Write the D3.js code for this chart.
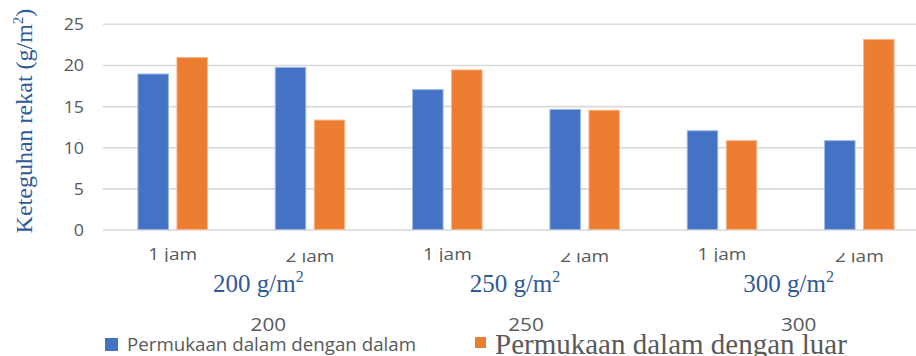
<!DOCTYPE html>
<html>
<head>
<meta charset="utf-8">
<script src="https://cdn.jsdelivr.net/npm/d3@7"></script>
<style>
  html, body { margin: 0; padding: 0; background: #fff; }
  svg { display: block; }
</style>
</head>
<body>
<svg id="chart" width="916" height="356"></svg>
<script>
// Bonding strength per sample: grammage group x curing time
const categories = ["1 jam", "2 jam", "1 jam", "2 jam", "1 jam", "2 jam"];
const groups = ["200", "250", "300"];
const groupTitles = ["200 g/m", "250 g/m", "300 g/m"];
const seriesNames = ["Permukaan dalam dengan dalam", "Permukaan dalam dengan luar"];
const seriesInIn = [18.9, 19.7, 17.0, 14.6, 12.0, 10.8];
const seriesInOut = [20.9, 13.3, 19.4, 14.5, 10.8, 23.1];
const yTicks = [0, 5, 10, 15, 20, 25];

const colors = ["#4472C4", "#ED7D31"];
const edge = ["#9fb6e2", "#f6b98f"];
const sans = "'Open Sans', 'Liberation Sans', sans-serif";
const serif = "'Liberation Serif', 'Times New Roman', serif";
const blueText = "#2F5A98";
const grayText = "#595959";

const svg = d3.select("#chart");
const W = 916;

const x0 = d3.scaleBand().domain(d3.range(categories.length)).range([104, 928]).padding(0);
const groupW = 69.5;
const x1 = d3.scaleBand().domain([0, 1])
  .range([x0.bandwidth() / 2 - groupW / 2, x0.bandwidth() / 2 + groupW / 2])
  .paddingInner(0.218).paddingOuter(0);
const y = d3.scaleLinear().domain([0, 25]).range([229.5, 23.8]);

// gridlines and value labels
const yAxis = d3.axisLeft(y).tickValues(yTicks).tickSize(-(W - 103)).tickPadding(19);
const ga = svg.append("g").attr("transform", "translate(103,0)").call(yAxis);
ga.select(".domain").remove();
ga.selectAll(".tick line").attr("stroke", "#d9d9d9").attr("stroke-width", 1.6);
ga.selectAll(".tick text")
  .attr("fill", grayText)
  .style("font-family", sans)
  .style("font-size", "16.5px")
  .attr("dy", "0.36em")
  .attr("transform", function () {
    const xx = +d3.select(this).attr("x");
    return `translate(${xx},0) scale(1.08,1) translate(${-xx},0)`;
  });

// bars
const rows = categories.map((c, i) => ({ i, values: [seriesInIn[i], seriesInOut[i]] }));
const cat = svg.append("g").selectAll("g").data(rows).join("g")
  .attr("transform", d => `translate(${x0(d.i)},0)`);
cat.selectAll("rect").data(d => d.values.map((v, s) => ({ v, s }))).join("rect")
  .attr("x", d => x1(d.s))
  .attr("width", x1.bandwidth())
  .attr("y", d => y(d.v))
  .attr("height", d => y(0) - y(d.v))
  .attr("fill", d => colors[d.s])
  .attr("stroke", d => edge[d.s])
  .attr("stroke-width", 1);

// category tick labels, partly clipped
const defs = svg.append("defs");
defs.append("clipPath").attr("id", "clipOne").append("rect")
  .attr("x", 0).attr("y", 238).attr("width", W).attr("height", 24);
defs.append("clipPath").attr("id", "clipTwo").append("rect")
  .attr("x", 0).attr("y", 253).attr("width", W).attr("height", 9.5);

categories.forEach((c, i) => {
  const cx = x0(i) + x0.bandwidth() / 2;
  const base = i % 2 === 0 ? 259.5 : 262;
  svg.append("g").attr("clip-path", i % 2 === 0 ? "url(#clipOne)" : "url(#clipTwo)")
    .append("text")
    .attr("transform", `translate(${cx},${base}) scale(1.12,1)`)
    .attr("text-anchor", "middle")
    .attr("fill", grayText)
    .style("font-family", sans)
    .style("font-size", "17px")
    .text(c);
});

// group titles (serif) and group labels (sans)
const groupCenter = g => (x0(g * 2) + x0(g * 2 + 1) + x0.bandwidth()) / 2;
const titleShift = [17, -1, -2];
const labelShift = [27, 10, 8];
groups.forEach((g, k) => {
  const t = svg.append("text")
    .attr("x", groupCenter(k) + titleShift[k]).attr("y", 291.5)
    .attr("text-anchor", "middle")
    .attr("fill", blueText)
    .style("font-family", serif)
    .style("font-size", "25px")
    .text(groupTitles[k]);
  t.append("tspan").attr("dy", -10).style("font-size", "16px").text("2");

  svg.append("text")
    .attr("transform", `translate(${groupCenter(k) + labelShift[k]},331) scale(1.15,1)`)
    .attr("text-anchor", "middle")
    .attr("fill", grayText)
    .style("font-family", sans)
    .style("font-size", "18px")
    .text(g);
});

// y axis title
const yt = svg.append("text")
  .attr("transform", `translate(32,121) rotate(-90)`)
  .attr("text-anchor", "middle")
  .attr("fill", blueText)
  .style("font-family", serif)
  .style("font-size", "24px")
  .text("Keteguhan rekat (g/m");
yt.append("tspan").attr("dy", -9).style("font-size", "15px").text("2");
yt.append("tspan").attr("dy", 9).text(")");

// legend
svg.append("rect").attr("x", 105).attr("y", 338).attr("width", 13).attr("height", 13).attr("fill", colors[0]);
svg.append("text")
  .attr("transform", "translate(127,351) scale(1.04,1)")
  .attr("fill", grayText)
  .style("font-family", sans)
  .style("font-size", "18px")
  .text(seriesNames[0]);
svg.append("rect").attr("x", 475).attr("y", 337).attr("width", 11).attr("height", 11).attr("fill", colors[1]);
svg.append("text")
  .attr("x", 495).attr("y", 354)
  .attr("fill", grayText)
  .style("font-family", serif)
  .style("font-size", "29px")
  .text(seriesNames[1]);
</script>
</body>
</html>
